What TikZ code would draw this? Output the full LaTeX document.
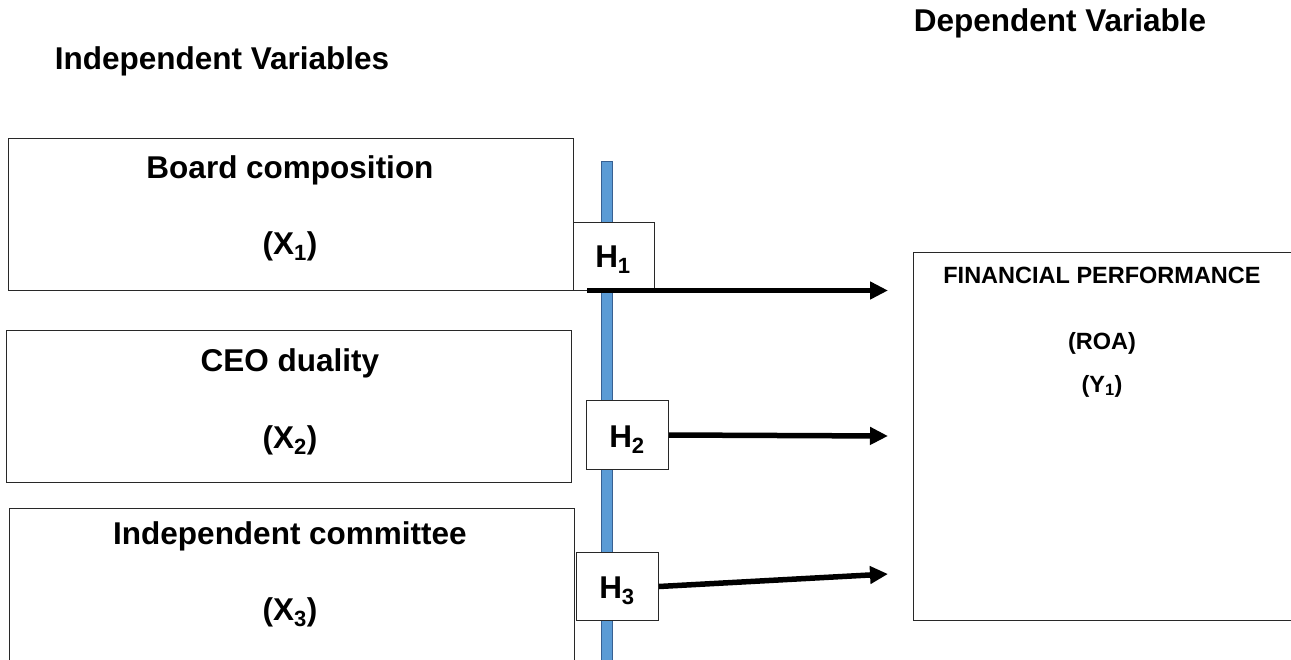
\documentclass[tikz,border=0pt]{standalone}
\usepackage{fontspec}
\setmainfont{Liberation Sans}
\usetikzlibrary{arrows.meta}
\definecolor{barblue}{RGB}{91,155,213}
\definecolor{barline}{RGB}{55,96,146}
\definecolor{boxline}{RGB}{40,40,40}
\tikzset{
  varbox/.style={draw=boxline, line width=1.4pt, fill=white, anchor=north west, inner sep=0pt},
  hbox/.style={draw=boxline, line width=1pt, fill=white, anchor=north west, inner sep=0pt},
  bigtxt/.style={font=\bfseries\fontsize{31.5}{36}\selectfont, inner sep=0pt, anchor=base},
  smalltxt/.style={font=\bfseries\fontsize{23.5}{28}\selectfont, inner sep=0pt, anchor=base},
  hyparrow/.style={line width=5.5pt, -{Triangle[length=18pt,width=17pt]}}
}
\begin{document}
\begin{tikzpicture}[x=1pt,y=-1pt]
\useasboundingbox (0,0) rectangle (1291,659);
% headings
\node[bigtxt] (hind) at (222,69) {Independent Variables};
\node[bigtxt] (hdep) at (1060,31) {Dependent Variable};
% blue bar
\node[draw=barline, fill=barblue, line width=0.8pt, anchor=north west, inner sep=0pt,
      minimum width=11pt, minimum height=510pt] (bar) at (601,161) {};
% independent variable boxes
\node[varbox, minimum width=565pt, minimum height=152pt] (b1) at (8,138) {};
\node[varbox, minimum width=565pt, minimum height=152pt] (b2) at (6,330) {};
\node[varbox, minimum width=565pt, minimum height=170pt] (b3) at (9,508) {};
\node[bigtxt] (b1a) at (290,178) {Board composition};
\node[bigtxt] (b1b) at (290,254) {(X\textsubscript{1})};
\node[bigtxt] (b2a) at (290,371) {CEO duality};
\node[bigtxt] (b2b) at (290,448) {(X\textsubscript{2})};
\node[bigtxt] (b3a) at (290,544) {Independent committee};
\node[bigtxt] (b3b) at (290,620) {(X\textsubscript{3})};
% dependent variable box
\node[varbox, minimum width=378pt, minimum height=368pt] (dv) at (913,252) {};
\node[smalltxt] (dva) at (1102,283) {FINANCIAL PERFORMANCE};
\node[smalltxt] (dvb) at (1102,349) {(ROA)};
\node[smalltxt] (dvc) at (1102,392) {(Y\textsubscript{1})};
% hypothesis boxes
\node[hbox, minimum width=81pt, minimum height=68pt] (h1) at (573,222) {};
\node[hbox, minimum width=82pt, minimum height=69pt] (h2) at (586,400) {};
\node[hbox, minimum width=82pt, minimum height=68pt] (h3) at (576,552) {};
\node[bigtxt] (h1t) at (613,267) {H\textsubscript{1}};
\node[bigtxt] (h2t) at (627,447) {H\textsubscript{2}};
\node[bigtxt] (h3t) at (617,598) {H\textsubscript{3}};
% arrows
\coordinate (s1) at (587,290.5);
\coordinate (t1) at (888,290.5);
\coordinate (t2) at (888,436);
\coordinate (t3) at (888,574);
\draw[hyparrow] (s1) -- (t1);
\draw[hyparrow] (h2.east) -- (t2);
\draw[hyparrow] (h3.east) -- (t3);
\end{tikzpicture}
\end{document}
